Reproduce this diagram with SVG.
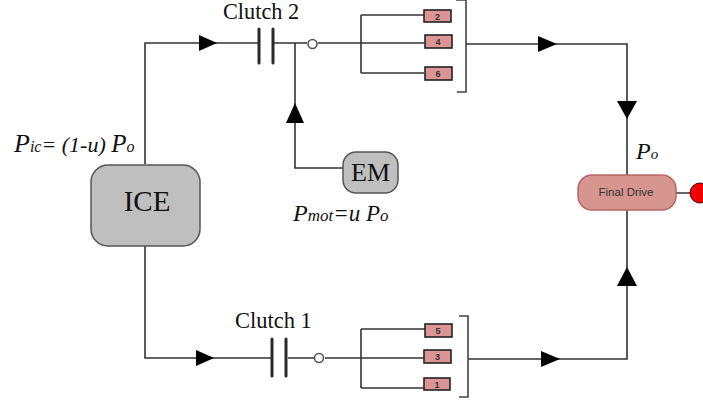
<svg xmlns="http://www.w3.org/2000/svg" width="703" height="400" viewBox="0 0 703 400">
<style>
.w{fill:none;stroke:#333;stroke-width:1.6}
.p{fill:none;stroke:#2a2a2a;stroke-width:3;stroke-linecap:round}
.b{fill:none;stroke:#444;stroke-width:1.6}
.a{fill:#000}
.o{fill:#fff;stroke:#555;stroke-width:1.6}
.g{fill:#dc9494;stroke:#222;stroke-width:1.6}
.n{font-family:"Liberation Sans",sans-serif;font-size:9px;fill:#333;text-anchor:middle;font-weight:bold}
.s{font-family:"Liberation Serif",serif;fill:#111}
.i{font-style:italic}
</style>
<g id="connectors">
<path class="w" d="M145 164V43H258M274 43H307M318 43H361M295 43V168H343M361 15H424M361 43H424M361 73H424M361 15V73"/>
<path class="w" d="M145 246V358H272M288 358H314M325 358H361M361 329H425M361 358H424M361 388H424M361 329V388"/>
<path class="w" d="M466 44H627V176M468 359H627V210M676 193H692"/>
<path class="p" d="M259 29V63M273 29V63M272 339V376M286 339V376"/>
<path class="b" d="M456 0H466V92H457M459 316H468V397H459"/>
<polygon class="a" points="199,35 217,43 199,51"/>
<polygon class="a" points="538,36 557,44 538,52"/>
<polygon class="a" points="196,350 214,358 196,366"/>
<polygon class="a" points="541,351 560,359 541,367"/>
<polygon class="a" points="286,123 304,123 295,103"/>
<polygon class="a" points="617,101 637,101 627,119"/>
<polygon class="a" points="617,286 637,286 627,267"/>
<circle class="o" cx="312.500" cy="44" r="4.500"/>
<circle class="o" cx="319" cy="358" r="4.500"/>
</g>
<g id="ice"><rect x="91" y="165" width="109" height="81" rx="17" fill="#bfbfbf" stroke="#555" stroke-width="1.500"/><text class="s" x="147" y="211" font-size="29" text-anchor="middle">ICE</text></g>
<g id="em"><rect x="343" y="152" width="55" height="41" rx="13" fill="#bfbfbf" stroke="#555" stroke-width="1.500"/><text class="s" x="370.500" y="181" font-size="26" text-anchor="middle">EM</text></g>
<g id="final-drive"><rect x="578" y="175" width="98" height="35" rx="14" fill="#d79590" stroke="#b66" stroke-width="1.500"/><text x="626" y="196" font-family="Liberation Sans,sans-serif" font-size="11.500" text-anchor="middle" fill="#333">Final Drive</text></g>
<g id="output"><circle cx="700" cy="193" r="10" fill="#f00000" stroke="#500" stroke-width="1"/></g>
<g id="gear-2"><rect class="g" x="424" y="10" width="27" height="12"/><text class="n" x="437.500" y="19.500">2</text></g>
<g id="gear-4"><rect class="g" x="425" y="35" width="27" height="13"/><text class="n" x="438" y="44.500">4</text></g>
<g id="gear-6"><rect class="g" x="425" y="67" width="27" height="13"/><text class="n" x="438" y="76.500">6</text></g>
<g id="gear-5"><rect class="g" x="425" y="324" width="27" height="13"/><text class="n" x="438" y="333.500">5</text></g>
<g id="gear-3"><rect class="g" x="424" y="350" width="27" height="13"/><text class="n" x="437.500" y="359.500">3</text></g>
<g id="gear-1"><rect class="g" x="424" y="378" width="26" height="12"/><text class="n" x="437" y="387.500">1</text></g>
<g id="labels">
<text class="s" x="223" y="19" font-size="22.300">Clutch 2</text>
<text class="s" x="235" y="328" font-size="22.500">Clutch 1</text>
<text class="s i" x="14" y="152" font-size="26">P<tspan font-size="16">ic</tspan><tspan font-size="22">= (1-u) </tspan><tspan font-size="25">P</tspan><tspan font-size="16">o</tspan></text>
<text class="s i" x="293" y="221" font-size="24">P<tspan font-size="17">mot</tspan><tspan font-size="23">=u P</tspan><tspan font-size="17">o</tspan></text>
<text class="s i" x="636" y="159" font-size="24">P<tspan font-size="15">o</tspan></text>
</g>
</svg>
